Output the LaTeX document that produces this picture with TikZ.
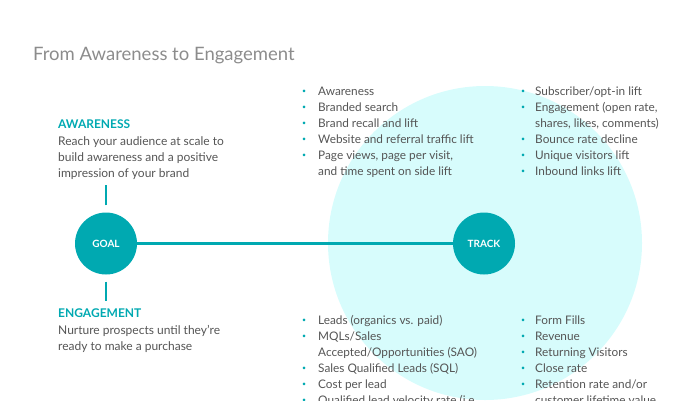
\documentclass[tikz,border=0pt]{standalone}
\usepackage{fontspec}
\setmainfont{Lato}
\usetikzlibrary{positioning}
\definecolor{tealc}{HTML}{00A9B1}
\definecolor{lightc}{HTML}{D7FCFC}
\definecolor{textc}{HTML}{555555}
\newcommand{\bl}{\makebox[16pt][l]{\color{tealc}\raisebox{2pt}{\scriptsize\textbullet}}}
\newcommand{\br}{\makebox[14pt][l]{\color{tealc}\raisebox{2pt}{\scriptsize\textbullet}}}

\begin{document}
\begin{tikzpicture}[x=1pt,y=-1pt,
  txt/.style={anchor=base west, inner sep=0pt, text=textc, font=\fontsize{12}{16}\selectfont, align=left},
  lst/.style={txt, font=\fontsize{11.8}{16}\selectfont},
  head/.style={txt, text=tealc, font=\bfseries\fontsize{12}{16}\selectfont},
  hub/.style={circle, fill=tealc, minimum size=62pt, inner sep=0pt, text=white, font=\bfseries\fontsize{10}{10}\selectfont}]
  \clip (0,0) rectangle (700,400);
  \fill[lightc] (485,243) circle (157pt);
  % title
  \node[anchor=base west, inner sep=0pt, text=black!45, font=\fontsize{18.5}{20}\selectfont] (title) at (33,60) {From Awareness to Engagement};
  % left side (base = last line)
  \node[head] (awhead) at (58,128.5) {AWARENESS};
  \node[txt] (awtext) at (58,177.5) {Reach your audience at scale to\\build awareness and a positive\\impression of your brand};
  \node[head] (enhead) at (58,317.5) {ENGAGEMENT};
  \node[txt] (entext) at (58,350.5) {Nurture prospects until they're\\ready to make a purchase};
  % goal and track
  \node[hub] (goal) at (106,243.5) {GOAL};
  \node[hub] (track) at (484,243.5) {TRACK};
  \draw[tealc, line width=3pt] (goal) -- (track);
  \draw[tealc, line width=2pt] ([yshift=7pt]goal.north) -- ([yshift=27pt]goal.north);
  \draw[tealc, line width=2pt] ([yshift=-7pt]goal.south) -- ([yshift=-26pt]goal.south);
  % metrics
  \node[lst] (awlist) at (302,175.5) {\bl Awareness\\
    \bl Branded search\\
    \bl Brand recall and lift\\
    \bl Website and referral traffic lift\\
    \bl Page views, page per visit,\\
    \hspace*{16pt}and time spent on side lift};
  \node[lst] (awlist2) at (521,175.5) {\br Subscriber/opt-in lift\\
    \br Engagement (open rate,\\
    \hspace*{14pt}shares, likes, comments)\\
    \br Bounce rate decline\\
    \br Unique visitors lift\\
    \br Inbound links lift};
  \node[lst] (enlist) at (302,404.5) {\bl Leads (organics vs. paid)\\
    \bl MQLs/Sales\\
    \hspace*{16pt}Accepted/Opportunities (SAO)\\
    \bl Sales Qualified Leads (SQL)\\
    \bl Cost per lead\\
    \bl Qualified lead velocity rate (i.e.};
  \node[lst] (enlist2) at (521,404.5) {\br Form Fills\\
    \br Revenue\\
    \br Returning Visitors\\
    \br Close rate\\
    \br Retention rate and/or\\
    \hspace*{14pt}customer lifetime value};
\end{tikzpicture}
\end{document}
